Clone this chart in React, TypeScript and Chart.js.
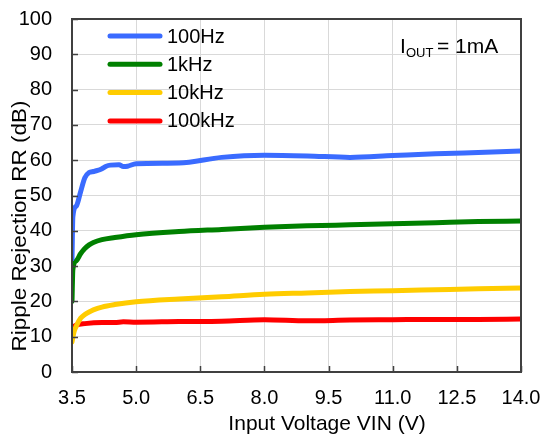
import React, { useEffect, useRef } from "react";
import { Chart, registerables } from "chart.js";

Chart.register(...registerables);

const X_TICKS = [3.5, 5.0, 6.5, 8.0, 9.5, 11.0, 12.5, 14.0];

const BLUE_X = [3.5, 3.52, 3.6, 3.7, 3.8, 3.9, 4.0, 4.1, 4.2, 4.3, 4.4, 4.6, 4.7, 4.8, 5.0, 6.0, 7.0, 8.0, 9.0, 10.0, 11.0, 12.0, 13.0, 14.0];
const BLUE_Y = [32, 44, 47, 51, 55, 56.5, 56.8, 57.1, 57.6, 58.3, 58.6, 58.7, 58.2, 58.3, 59.0, 59.2, 60.8, 61.4, 61.2, 60.8, 61.3, 61.8, 62.2, 62.6];

const GREEN_X = [3.5, 3.52, 3.6, 3.7, 3.8, 3.9, 4.0, 4.2, 4.5, 5.0, 6.0, 7.0, 8.0, 9.0, 10.0, 11.0, 12.0, 13.0, 14.0];
const GREEN_Y = [20, 29, 31.5, 33.5, 35, 36, 36.7, 37.5, 38.1, 38.9, 39.8, 40.4, 41.0, 41.4, 41.7, 42.0, 42.3, 42.6, 42.8];

const YELLOW_X = [3.5, 3.55, 3.6, 3.7, 3.8, 3.9, 4.0, 4.2, 4.5, 5.0, 6.0, 7.0, 8.0, 9.0, 10.0, 11.0, 12.0, 13.0, 14.0];
const YELLOW_Y = [8.5, 11.5, 13, 15.2, 16.3, 17, 17.6, 18.4, 19.1, 19.9, 20.7, 21.3, 22.0, 22.4, 22.8, 23.0, 23.3, 23.6, 23.8];

const RED_X = [3.5, 3.6, 3.8, 4.2, 4.5, 4.7, 5.0, 6.0, 7.0, 8.0, 9.0, 10.0, 11.0, 12.0, 13.0, 14.0];
const RED_Y = [12.6, 13.3, 13.7, 14.0, 14.0, 14.2, 14.1, 14.3, 14.4, 14.8, 14.5, 14.7, 14.8, 14.9, 14.9, 15.0];

const SERIES = [
  { label: "100Hz", xs: BLUE_X, ys: BLUE_Y, color: "#3a6bff" },
  { label: "1kHz", xs: GREEN_X, ys: GREEN_Y, color: "#008000" },
  { label: "10kHz", xs: YELLOW_X, ys: YELLOW_Y, color: "#ffcc00" },
  { label: "100kHz", xs: RED_X, ys: RED_Y, color: "#ff0000" },
];

const X_TITLE = "Input Voltage VIN (V)";
const Y_TITLE = "Ripple Rejection RR (dB)";

const FONT = "'Liberation Sans', Arial, sans-serif";

const framePlugin = {
  id: "frame",
  afterDatasetsDraw(chart: any) {
    const { ctx, chartArea: a, scales } = chart;
    ctx.save();
    // inner tick marks
    ctx.strokeStyle = "#404040";
    ctx.lineWidth = 1.5;
    ctx.beginPath();
    for (let v = 0; v <= 100; v += 10) {
      const y = Math.round(scales.y.getPixelForValue(v)) + 0.5;
      ctx.moveTo(a.left, y);
      ctx.lineTo(a.left + 6, y);
    }
    for (const v of X_TICKS) {
      const x = Math.round(scales.x.getPixelForValue(v)) + 0.5;
      ctx.moveTo(x, a.bottom);
      ctx.lineTo(x, a.bottom - 6);
    }
    ctx.stroke();
    // box
    ctx.lineWidth = 2;
    ctx.strokeStyle = "#404040";
    ctx.strokeRect(a.left, a.top, a.right - a.left, a.bottom - a.top);

    // legend
    ctx.font = `20px ${FONT}`;
    ctx.textBaseline = "middle";
    ctx.textAlign = "left";
    chart.data.datasets.forEach((ds: any, i: number) => {
      const y = 36 + i * 28.3;
      ctx.strokeStyle = ds.borderColor;
      ctx.lineWidth = 5;
      ctx.lineCap = "round";
      ctx.beginPath();
      ctx.moveTo(110, y);
      ctx.lineTo(160, y);
      ctx.stroke();
      ctx.fillStyle = "#000";
      ctx.fillText(ds.label, 167, y + 1);
    });

    // annotation I_OUT = 1mA
    ctx.textBaseline = "alphabetic";
    ctx.fillStyle = "#000";
    ctx.font = `21px ${FONT}`;
    ctx.fillText("I", 400, 53);
    ctx.font = `13px ${FONT}`;
    ctx.fillText("OUT", 406, 57);
    ctx.font = `21px ${FONT}`;
    ctx.fillText("=", 437, 53);
    ctx.fillText("1mA", 455, 53);

    // axis titles
    ctx.font = `21px ${FONT}`;
    ctx.textAlign = "center";
    ctx.fillText(X_TITLE, 327, 430);
    ctx.save();
    ctx.translate(26, 226);
    ctx.rotate(-Math.PI / 2);
    ctx.scale(1.07, 1);
    ctx.fillText(Y_TITLE, 0, 0);
    ctx.restore();
    ctx.restore();
  },
};

export default function App() {
  const ref = useRef<HTMLCanvasElement>(null);
  useEffect(() => {
    const chart = new Chart(ref.current!, {
      type: "line",
      data: {
        datasets: SERIES.map((s) => ({
          label: s.label,
          data: s.xs.map((x, i) => ({ x, y: s.ys[i] })),
          borderColor: s.color,
          backgroundColor: s.color,
          borderWidth: 5,
          pointRadius: 0,
          cubicInterpolationMode: "monotone" as const,
          borderCapStyle: "round" as const,
          borderJoinStyle: "round" as const,
        })),
      },
      options: {
        responsive: false,
        animation: false,
        layout: { padding: { left: 0, top: 19, right: 22, bottom: 0 } },
        plugins: { legend: { display: false }, tooltip: { enabled: false } },
        scales: {
          x: {
            type: "linear",
            min: 3.5,
            max: 14,
            afterBuildTicks: (s: any) => {
              s.ticks = X_TICKS.map((v) => ({ value: v }));
            },
            afterFit: (s: any) => {
              s.height = 66;
              s.paddingLeft = 0;
              s.paddingRight = 0;
            },
            grid: { color: "#d9d9d9", lineWidth: 1, drawTicks: false },
            border: { display: false },
            ticks: {
              padding: 14,
              color: "#000",
              font: { family: FONT, size: 20 },
              maxRotation: 0,
              autoSkip: false,
              callback: (v: any) => Number(v).toFixed(1),
            },
          },
          y: {
            type: "linear",
            min: 0,
            max: 100,
            afterFit: (s: any) => {
              s.width = 72;
              s.paddingTop = 0;
              s.paddingBottom = 0;
            },
            grid: { color: "#d9d9d9", lineWidth: 1, drawTicks: false },
            border: { display: false },
            ticks: {
              stepSize: 10,
              padding: 20,
              color: "#000",
              font: { family: FONT, size: 20 },
            },
          },
        },
      },
      plugins: [framePlugin],
    });
    return () => chart.destroy();
  }, []);
  return (
    <div style={{ position: "fixed", left: 0, top: 0, width: 543, height: 438, background: "#fff" }}>
      <canvas ref={ref} width={543} height={438} />
    </div>
  );
}
